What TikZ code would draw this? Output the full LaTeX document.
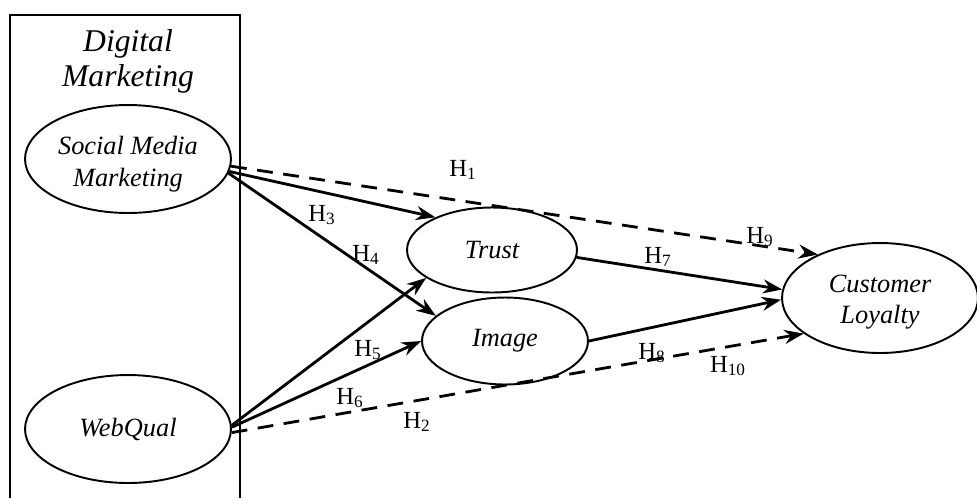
\documentclass[tikz,border=0pt]{standalone}
\usepackage{fontspec}
\setmainfont{Liberation Serif}
\usetikzlibrary{arrows.meta,shapes.geometric}
\tikzset{
  latent/.style={draw, ellipse, line width=1.1pt, inner sep=0pt, align=center,
    font=\fontsize{15}{18}\selectfont\itshape},
  hyp/.style={-{Stealth[length=11pt,width=8pt]}, line width=1.6pt},
  hypdash/.style={hyp, dash pattern=on 9pt off 6pt},
  hlabel/.style={font=\fontsize{14}{15}\selectfont, inner sep=0pt}
}
\begin{document}
\begin{tikzpicture}[x=0.02cm,y=-0.02cm]
			\useasboundingbox (0,0) rectangle (977,498);
			% digital marketing block
			\path[draw, line width=0.8pt] (10,498) -- (10,15) -- (240,15) -- (240,498);
			\node[align=center, font=\fontsize{18}{20}\selectfont\itshape] (dm) at (128,61) {Digital\\Marketing};
			% constructs
			\node[latent, minimum width=4.12cm, minimum height=2.16cm] (smm) at (128,159) {};
			\node[latent, draw=none, minimum width=0pt, minimum height=0pt] (smmtext) at (128,164) {Social Media\\Marketing};
			\node[latent, minimum width=4.12cm, minimum height=2.16cm] (wq) at (128,429) {WebQual};
			\node[latent, minimum width=3.4cm, minimum height=1.7cm] (trust) at (492,250) {Trust};
			\node[latent, minimum width=3.32cm, minimum height=1.74cm] (image) at (505,341) {Image};
			\node[latent, minimum width=3.92cm, minimum height=2.2cm] (cl) at (880,298) {};
			\node[latent, draw=none, minimum width=0pt, minimum height=0pt] (cltext) at (880,302) {Customer\\Loyalty};
			% hypotheses
			\draw[hypdash] (smm.-4) -- (cl.145);
			\draw[hyp] (smm.-7) -- (trust.150);
			\draw[hyp] (smm.-8) -- (image.160);
			\draw[hyp] (wq.2) -- (trust.203);
			\draw[hyp] (wq.1) -- (image.180);
			\draw[hypdash] (wq.-2) -- (cl.205);
			\draw[hyp] (trust.-5) -- (cl.175);
			\draw[hyp] (image.0) -- (cl.181);
			% labels
			\node[hlabel] (h1) at (463,170) {H\textsubscript{1}};
			\node[hlabel] (h2) at (417,422) {H\textsubscript{2}};
			\node[hlabel] (h3) at (322,215) {H\textsubscript{3}};
			\node[hlabel] (h4) at (366,255) {H\textsubscript{4}};
			\node[hlabel] (h5) at (368,350) {H\textsubscript{5}};
			\node[hlabel] (h6) at (350,398) {H\textsubscript{6}};
			\node[hlabel] (h7) at (658,257) {H\textsubscript{7}};
			\node[hlabel] (h8) at (652,353) {H\textsubscript{8}};
			\node[hlabel] (h9) at (760,237) {H\textsubscript{9}};
			\node[hlabel] (h10) at (728,366) {H\textsubscript{10}};
		\end{tikzpicture}
\end{document}
